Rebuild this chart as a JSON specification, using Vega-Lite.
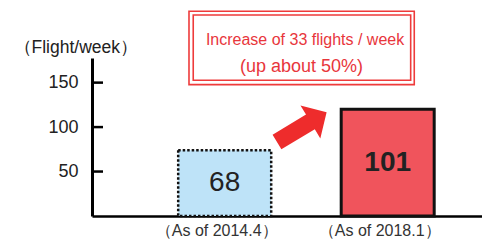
{
  "$schema": "https://vega.github.io/schema/vega-lite/v6.json",
  "width": 390,
  "height": 158,
  "autosize": {"type": "none"},
  "padding": {"left": 92, "top": 58, "right": 0, "bottom": 25},
  "background": "white",
  "config": {"view": {"stroke": null}, "font": "Liberation Sans"},
  "data": {"values": [
    {"period": 1, "label": "（As of 2014.4）", "flights": 68, "bar_height": 74},
    {"period": 2, "label": "（As of 2018.1）", "flights": 101, "bar_height": 120}
  ]},
  "layer": [
    {
      "mark": {"type": "bar", "width": 93, "stroke": "#111111"},
      "encoding": {
        "x": {"field": "period", "type": "quantitative",
          "scale": {"domain": [0.2166, 2.5479], "nice": false, "zero": false},
          "axis": {"labels": false, "ticks": false, "grid": false, "title": null, "domainColor": "#000000", "domainWidth": 2.6, "zindex": 0}},
        "y": {"field": "bar_height", "type": "quantitative",
          "scale": {"domain": [0, 177.7], "nice": false},
          "axis": {"values": [50, 100, 150], "grid": false, "domainColor": "#000000", "domainWidth": 3,
            "ticks": false, "labelPadding": 14,
            "labelFontSize": 18, "labelColor": "#222222", "labelFont": "Liberation Sans", "zindex": 0,
            "title": "（Flight/week）", "titleAngle": 0, "titleAlign": "left", "titleBaseline": "alphabetic",
            "titleX": -79, "titleY": -6, "titleFontSize": 17.5, "titleFontWeight": "normal", "titleColor": "#222222", "titleFont": "Liberation Sans"}},
        "fill": {"field": "period", "type": "nominal", "scale": {"domain": [1, 2], "range": ["#BEE3F8", "#F0545C"]}, "legend": null},
        "strokeDash": {"field": "period", "type": "nominal", "scale": {"domain": [1, 2], "range": [[2.5, 2], [10, 0]]}, "legend": null},
        "strokeWidth": {"field": "period", "type": "nominal", "scale": {"domain": [1, 2], "range": [2.5, 3]}, "legend": null}
      }
    },
    {
      "data": {"values": [{"tick": 50}, {"tick": 100}, {"tick": 150}]},
      "mark": {"type": "rule", "color": "#000000", "strokeWidth": 2.5, "strokeCap": "butt"},
      "encoding": {
        "x": {"datum": 0.1859},
        "x2": {"datum": 0.2534},
        "y": {"field": "tick", "type": "quantitative"}
      }
    },
    {
      "transform": [{"filter": "datum.period == 1"}, {"calculate": "datum.bar_height / 2", "as": "mid"}],
      "mark": {"type": "text", "fontSize": 28, "color": "#222222", "baseline": "middle", "align": "center"},
      "encoding": {
        "x": {"field": "period", "type": "quantitative"},
        "y": {"field": "mid", "type": "quantitative"},
        "text": {"field": "flights"}
      }
    },
    {
      "transform": [{"filter": "datum.period == 2"}, {"calculate": "datum.bar_height / 2", "as": "mid"}],
      "mark": {"type": "text", "fontSize": 28, "fontWeight": "bold", "color": "#222222", "baseline": "middle", "align": "center"},
      "encoding": {
        "x": {"field": "period", "type": "quantitative"},
        "y": {"field": "mid", "type": "quantitative"},
        "text": {"field": "flights"}
      }
    },
    {
      "mark": {"type": "text", "fontSize": 16, "color": "#333333", "baseline": "alphabetic", "align": "center", "dx": -8},
      "encoding": {
        "x": {"field": "period", "type": "quantitative"},
        "y": {"datum": -23},
        "text": {"field": "label"}
      }
    },
    {
      "data": {"values": [{"item": "arrow"}]},
      "mark": {"type": "point", "filled": true, "fill": "#EE2C2C", "opacity": 1, "strokeWidth": 0,
        "shape": "M -1 -0.295 L 0.347 -0.295 L 0.347 -0.665 L 1 0 L 0.347 0.665 L 0.347 0.295 L -1 0.295 Z",
        "size": 3352, "angle": 329},
      "encoding": {
        "x": {"datum": 1.473},
        "y": {"datum": 100}
      }
    },
    {
      "data": {"values": [{"item": "outer"}]},
      "mark": {"type": "rect", "fill": null, "stroke": "#EE3B3B", "strokeWidth": 1.6},
      "encoding": {
        "x": {"datum": 0.781}, "x2": {"datum": 2.163},
        "y": {"datum": 230.3}, "y2": {"datum": 147.8}
      }
    },
    {
      "data": {"values": [{"item": "inner"}]},
      "mark": {"type": "rect", "fill": null, "stroke": "#EE3B3B", "strokeWidth": 1.6},
      "encoding": {
        "x": {"datum": 0.807}, "x2": {"datum": 2.141},
        "y": {"datum": 226.1}, "y2": {"datum": 152.6}
      }
    },
    {
      "data": {"values": [{"note": "Increase of 33 flights / week"}]},
      "mark": {"type": "text", "fontSize": 16, "color": "#E8363C", "baseline": "alphabetic", "align": "center"},
      "encoding": {
        "x": {"datum": 1.493},
        "y": {"datum": 192.3},
        "text": {"field": "note"}
      }
    },
    {
      "data": {"values": [{"note": "(up about 50%)"}]},
      "mark": {"type": "text", "fontSize": 18, "color": "#E8363C", "baseline": "alphabetic", "align": "center"},
      "encoding": {
        "x": {"datum": 1.471},
        "y": {"datum": 162.2},
        "text": {"field": "note"}
      }
    }
  ]
}
